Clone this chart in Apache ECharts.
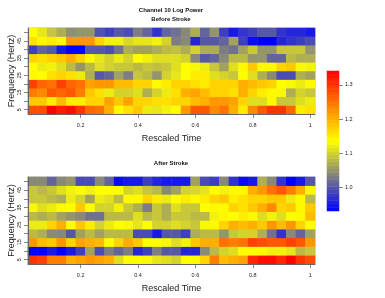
<!DOCTYPE html>
<html><head><meta charset="utf-8">
<style>html,body{margin:0;padding:0;background:#fff}#c{width:385px;height:298px}</style>
<script src="https://cdn.jsdelivr.net/npm/echarts@6/dist/echarts.min.js"></script>
</head><body><div id="c"></div>
<script>
const timeSteps=['1','2','3','4','5','6','7','8','9','10','11','12','13','14','15','16','17','18','19','20','21','22','23','24','25','26','27','28','29','30'];
const frequencies=['5','10','15','20','25','30','35','40','45','50'];
const xTicks=[0.2,0.4,0.6,0.8,1];
const yTicks=[5,10,15,20,25,30,35,40,45,50];
const yLabels=[5,15,25,35,45];
const barTicks=[1.0,1.1,1.2,1.3];
const before50=[1.135,1.115,1.09,1.07,1.045,1.05,1.05,.995,.98,1.0,.99,1.03,1.01,.97,1.01,1.02,1.04,1.07,1.01,1.05,.98,.95,.97,.98,1.0,1.0,.97,.96,.96,.95];
const before45=[1.16,1.14,1.15,1.14,1.22,1.22,1.22,1.17,1.125,1.125,1.105,1.115,1.115,1.125,1.10,1.03,1.04,.96,1.0,1.0,1.01,1.06,.98,.94,.93,.93,.96,.97,.98,.99];
const before40=[.98,1.01,1.0,.95,.93,.93,1.0,1.0,.99,1.02,1.07,1.06,1.06,1.07,1.08,1.085,1.07,1.1,1.07,1.07,1.03,1.02,1.06,1.09,1.05,1.05,1.09,1.09,1.09,1.05];
const before35=[1.17,1.16,1.17,1.18,1.2,1.17,1.14,1.115,1.10,1.12,1.10,1.135,1.125,1.11,1.11,1.11,1.10,1.04,1.0,1.01,1.04,1.08,1.08,1.05,1.05,1.01,1.01,1.08,1.07,1.07];
const before30=[1.135,1.12,1.125,1.11,1.08,1.05,1.08,1.11,1.10,1.09,1.09,1.08,1.09,1.085,1.09,1.11,1.135,1.13,1.12,1.09,1.06,1.11,1.14,1.18,1.14,1.14,1.17,1.18,1.13,1.125];
const before25=[1.14,1.135,1.16,1.17,1.16,1.12,1.07,1.0,1.01,1.06,1.03,1.09,1.08,1.05,1.10,1.115,1.135,1.15,1.15,1.11,1.10,1.09,1.135,1.11,1.07,1.04,.99,.99,1.07,1.06];
const before20=[1.29,1.26,1.25,1.29,1.26,1.25,1.21,1.22,1.22,1.19,1.19,1.17,1.17,1.14,1.15,1.17,1.17,1.16,1.15,1.17,1.17,1.17,1.2,1.19,1.18,1.17,1.135,1.13,1.12,1.14];
const before15=[1.24,1.23,1.27,1.26,1.27,1.24,1.18,1.16,1.12,1.10,1.10,1.11,1.07,1.10,1.12,1.16,1.2,1.21,1.19,1.17,1.17,1.16,1.2,1.17,1.15,1.14,1.13,1.07,1.10,1.09];
const before10=[1.18,1.18,1.15,1.19,1.15,1.15,1.17,1.17,1.21,1.18,1.21,1.17,1.17,1.16,1.16,1.17,1.17,1.19,1.2,1.22,1.22,1.21,1.17,1.11,1.11,1.14,1.09,1.09,1.11,1.12];
const before5=[1.28,1.28,1.34,1.32,1.33,1.30,1.26,1.25,1.2,1.14,1.16,1.18,1.12,1.115,1.125,1.135,1.22,1.27,1.27,1.23,1.25,1.2,1.15,1.23,1.27,1.3,1.3,1.26,1.15,1.16];
const after50=[1.04,1.04,1.01,1.04,1.05,.99,.99,1.04,1.01,.94,.95,.95,.98,.96,.95,.95,.95,1.06,.99,.98,1.04,.97,.94,.95,1.07,1.04,.97,.93,.95,1.0];
const after45=[1.09,1.08,1.09,1.11,1.125,1.135,1.125,1.135,1.135,1.135,1.10,1.11,1.09,1.08,1.04,1.06,1.10,1.105,1.115,1.135,1.125,1.14,1.14,1.2,1.22,1.25,1.27,1.24,1.2,1.14];
const after40=[1.09,1.09,1.08,1.07,1.12,1.10,1.06,1.12,1.11,1.08,1.14,1.14,1.17,1.15,1.12,1.135,1.15,1.14,1.15,1.17,1.18,1.15,1.16,1.17,1.17,1.18,1.18,1.12,1.14,1.08];
const after35=[1.13,1.11,1.12,1.14,1.135,1.18,1.135,1.10,1.10,1.125,1.09,1.07,1.03,1.09,1.07,1.11,1.09,1.09,1.135,1.14,1.14,1.17,1.16,1.18,1.2,1.23,1.17,1.18,1.14,1.18];
const after30=[1.08,1.07,1.08,1.06,1.05,1.04,1.02,1.02,1.08,1.08,1.08,1.11,1.08,1.09,1.07,1.09,1.09,1.08,1.08,1.125,1.14,1.135,1.15,1.14,1.11,1.125,1.11,1.135,1.14,1.19];
const after25=[1.12,1.12,1.17,1.2,1.135,1.18,1.15,1.10,1.12,1.135,1.13,1.115,1.135,1.10,1.10,1.11,1.1,1.09,1.13,1.14,1.17,1.2,1.19,1.2,1.18,1.22,1.19,1.22,1.17,1.135];
const after20=[1.08,1.07,1.04,1.04,1.0,1.06,1.08,1.06,1.08,1.08,1.08,.99,.99,.95,1.0,1.0,.98,1.07,1.08,1.08,1.05,1.09,1.1,1.1,1.07,1.02,.97,1.04,1.01,1.06];
const after15=[1.22,1.19,1.18,1.22,1.17,1.21,1.2,1.19,1.135,1.17,1.2,1.18,1.135,1.135,1.13,1.11,1.125,1.18,1.2,1.2,1.25,1.24,1.25,1.29,1.28,1.27,1.27,1.29,1.27,1.22];
const after10=[.93,.93,.95,.93,.95,.98,1.06,.99,1.03,1.01,1.03,.96,.98,1.03,1.0,1.0,.96,.96,1.04,1.08,1.1,1.11,1.135,1.135,1.135,1.125,1.125,1.115,1.08,1.09];
const after5=[1.3,1.29,1.24,1.24,1.2,1.21,1.22,1.21,1.2,1.11,1.135,1.135,1.13,1.115,1.11,1.1,1.135,1.135,1.17,1.24,1.19,1.2,1.21,1.31,1.33,1.33,1.31,1.34,1.3,1.28];
const barLevels=['0.935','0.945','0.956','0.966','0.976','0.986','0.997','1.007','1.017','1.027','1.038','1.048','1.058','1.068','1.079','1.089','1.099','1.109','1.120','1.130','1.140','1.150','1.161','1.171','1.181','1.191','1.202','1.212','1.222','1.232','1.243','1.253','1.263','1.273','1.284','1.294','1.304','1.314','1.325','1.335'];

const beforeRows=[before5,before10,before15,before20,before25,before30,before35,before40,before45,before50];
const afterRows=[after5,after10,after15,after20,after25,after30,after35,after40,after45,after50];
const cells=rows=>rows.flatMap((r,y)=>r.map((v,x)=>[x,y,v]));

const font='"Liberation Sans", Arial, sans-serif';
const tickLabel={fontFamily:font,fontSize:5.5,color:'#222'};
const frame={show:true,lineStyle:{color:'#666',width:1}};
const tick={show:true,length:4,lineStyle:{color:'#555',width:0.7}};
const grids=[
 {left:28,width:287,top:28,height:86,show:true,borderColor:'#bbb',borderWidth:1,backgroundColor:'transparent',outerBoundsMode:'none',containLabel:false},
 {left:28,width:287,top:177,height:87,show:true,borderColor:'#bbb',borderWidth:1,backgroundColor:'transparent',outerBoundsMode:'none',containLabel:false},
 {left:327,width:12,top:71,height:140,show:false,outerBoundsMode:'none',containLabel:false}
];
const catX=g=>({type:'category',gridIndex:g,data:timeSteps,show:false,boundaryGap:true});
const catY=g=>({type:'category',gridIndex:g,data:frequencies,show:false,boundaryGap:true});
const valX=g=>({type:'value',gridIndex:g,position:'bottom',min:1/60,max:1+1/60,z:5,
  name:'Rescaled Time',nameLocation:'middle',nameMoveOverlap:false,nameGap:20,nameTextStyle:{fontFamily:font,fontSize:9,color:'#222'},
  splitLine:{show:false},axisLine:{...frame,onZero:false},axisTick:{...tick,customValues:xTicks},
  axisLabel:{...tickLabel,margin:8,customValues:xTicks,formatter:v=>String(v)}});
const valY=g=>({type:'value',gridIndex:g,position:'left',min:2.5,max:52.5,z:5,
  name:'Frequency (Hertz)',nameLocation:'middle',nameMoveOverlap:false,nameGap:12,nameRotate:90,nameTextStyle:{fontFamily:font,fontSize:9,color:'#222'},
  splitLine:{show:false},axisLine:{...frame,onZero:false},axisTick:{...tick,customValues:yTicks},
  axisLabel:{...tickLabel,margin:6,rotate:90,customValues:yLabels,formatter:v=>String(v)}});

const heat=(i,data)=>({type:'heatmap',xAxisIndex:i,yAxisIndex:i,data,progressive:0,emphasis:{disabled:true},itemStyle:{borderWidth:0}});

const chart=echarts.init(document.getElementById('c'),null,{renderer:'canvas'});
chart.setOption({
 animation:false,backgroundColor:'#fff',
 title:[
  {text:'Channel 10 Log Power\nBefore Stroke',left:171,top:6,padding:0,textAlign:'center',textStyle:{fontFamily:font,fontSize:6,fontWeight:'bold',color:'#111',lineHeight:9}},
  {text:'After Stroke',left:171,top:159,padding:0,textAlign:'center',textStyle:{fontFamily:font,fontSize:6,fontWeight:'bold',color:'#111',lineHeight:9}}
 ],
 grid:grids,
 tooltip:{show:false},
 visualMap:{show:false,type:'continuous',min:0.93,max:1.341,seriesIndex:[0,1,2],dimension:2,
   inRange:{color:['#0000ff','#808080','#ffff00','#ff8000','#ff0000']}},
 xAxis:[catX(0),catX(1),{type:'category',gridIndex:2,data:['bar'],show:false},valX(0),valX(1)],
 yAxis:[catY(0),catY(1),{type:'category',gridIndex:2,data:barLevels,show:false},valY(0),valY(1),
  {type:'value',gridIndex:2,position:'right',min:0.93,max:1.341,z:5,
   splitLine:{show:false},axisLine:{show:false},axisTick:{...tick,customValues:barTicks},
   axisLabel:{...tickLabel,margin:6,customValues:barTicks,formatter:v=>v.toFixed(1)}}],
 series:[
  heat(0,cells(beforeRows)),
  heat(1,cells(afterRows)),
  heat(2,barLevels.map((v,y)=>[0,y,Number(v)]))
 ]
});
</script></body></html>
